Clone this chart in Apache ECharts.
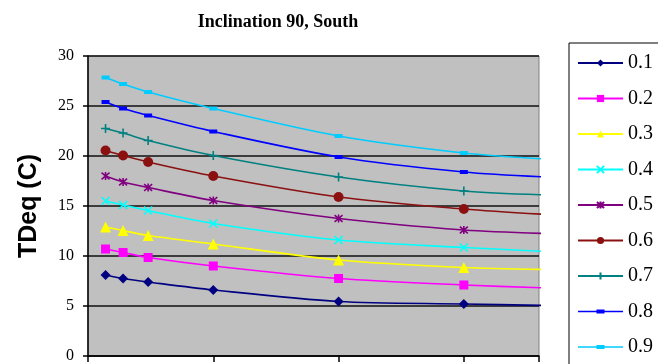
<!DOCTYPE html>
<html>
<head>
<meta charset="utf-8">
<script src="https://cdn.jsdelivr.net/npm/echarts@6/dist/echarts.min.js"></script>
<style>
  html, body { margin: 0; padding: 0; background: #fff; }
  #chart { width: 658px; height: 364px; }
</style>
</head>
<body>
<div id="chart"></div>
<script>
// x positions of the sampled points (last one only carries the curve on)
const xValues = [0.7, 1.4, 2.4, 5, 10, 15, 18.3];

const seriesNames = ['0.1', '0.2', '0.3', '0.4', '0.5', '0.6', '0.7', '0.8', '0.9'];

const tdeq01 = [8.1, 7.75, 7.4, 6.6, 5.45, 5.2, 5.05];
const tdeq02 = [10.7, 10.35, 9.85, 9.0, 7.75, 7.1, 6.8];
const tdeq03 = [12.9, 12.55, 12.05, 11.2, 9.6, 8.85, 8.65];
const tdeq04 = [15.5, 15.1, 14.55, 13.25, 11.6, 10.85, 10.45];
const tdeq05 = [18.0, 17.4, 16.85, 15.55, 13.75, 12.6, 12.25];
const tdeq06 = [20.55, 20.05, 19.4, 18.0, 15.9, 14.7, 14.15];
const tdeq07 = [22.75, 22.3, 21.55, 20.05, 17.9, 16.5, 16.1];
const tdeq08 = [25.4, 24.75, 24.05, 22.45, 19.9, 18.4, 17.9];
const tdeq09 = [27.85, 27.2, 26.4, 24.75, 22.0, 20.3, 19.7];

const yTicks = [0, 5, 10, 15, 20, 25, 30];

const allValues = [tdeq01, tdeq02, tdeq03, tdeq04, tdeq05, tdeq06, tdeq07, tdeq08, tdeq09];

// marker styling per series
const CROSS = 'path://M0,0L10,10M10,0L0,10';
const STAR = 'path://M0,0L10,10M10,0L0,10M5,-1L5,11';
const PLUS = 'path://M5,0L5,10M0,5L10,5';
// legend icon for the dash-marker series: line with a short bar in the middle
const DASH_ICON = 'path://M0,3.7h45v1.6h-45z M18.5,2.5h8v4h-8z';
const styles = [
  { color: '#000080', symbol: 'diamond', size: 10 },
  { color: '#FF00FF', symbol: 'rect', size: 9 },
  { color: '#FFFF00', symbol: 'triangle', size: 11 },
  { color: '#00FFFF', symbol: CROSS, size: 8, stroke: true },
  { color: '#800080', symbol: STAR, size: 8, stroke: true },
  { color: '#8B1010', symbol: 'circle', size: 10 },
  { color: '#008080', symbol: PLUS, size: 9, stroke: true },
  { color: '#0000FF', symbol: 'rect', size: [8, 4], legendIcon: DASH_ICON },
  { color: '#00CCFF', symbol: 'rect', size: [8, 4], legendIcon: DASH_ICON }
];

const series = allValues.map((vals, k) => {
  const st = styles[k];
  const data = xValues.map((x, i) =>
    i === xValues.length - 1 ? { value: [x, vals[i]], symbol: 'none' } : [x, vals[i]]
  );
  const itemStyle = { color: st.color };
  if (st.stroke) {
    itemStyle.borderColor = st.color;
    itemStyle.borderWidth = 1.6;
  }
  return {
    name: seriesNames[k],
    type: 'line',
    data: data,
    smooth: 0.3,
    clip: false,
    symbol: st.symbol,
    symbolSize: st.size,
    showAllSymbol: true,
    lineStyle: { color: st.color, width: 1.6 },
    itemStyle: itemStyle
  };
});

const legendData = seriesNames.map((name, k) =>
  styles[k].legendIcon ? { name: name, icon: styles[k].legendIcon } : { name: name }
);

const chart = echarts.init(document.getElementById('chart'), null, { renderer: 'canvas' });
chart.setOption({
  animation: false,
  backgroundColor: '#ffffff',
  title: {
    text: 'Inclination 90, South',
    left: 273,
    textAlign: 'center',
    top: 8,
    textStyle: { fontFamily: 'Liberation Serif', fontWeight: 'bold', fontSize: 18, color: '#000' }
  },
  legend: {
    orient: 'vertical',
    left: 569,
    top: 43,
    height: 330,
    padding: [10, 40, 10, 8],
    borderColor: '#000',
    borderWidth: 1,
    itemWidth: 45,
    itemHeight: 9,
    itemGap: 15.5,
    data: legendData,
    textStyle: { fontFamily: 'Liberation Serif', fontSize: 20, color: '#000', lineHeight: 20, height: 20 }
  },
  grid: {
    left: 88,
    top: 56,
    right: 119,
    bottom: 7,
    show: true,
    backgroundColor: '#C0C0C0',
    borderColor: '#808080',
    borderWidth: 1
  },
  xAxis: {
    type: 'value',
    min: 0,
    max: 18,
    interval: 5,
    axisLine: { show: true, lineStyle: { color: '#000', width: 1.5 } },
    axisTick: { show: true, inside: false, length: 6, lineStyle: { color: '#000', width: 1.5 } },
    axisLabel: { show: false },
    splitLine: { show: false }
  },
  yAxis: {
    type: 'value',
    min: yTicks[0],
    max: yTicks[yTicks.length - 1],
    interval: 5,
    name: 'TDeq (C)',
    nameLocation: 'middle',
    nameGap: 46,
    nameRotate: 90,
    nameTextStyle: { fontFamily: 'Liberation Sans', fontWeight: 'bold', fontSize: 25, color: '#000' },
    axisLine: { show: true, lineStyle: { color: '#000', width: 1.5 } },
    axisTick: { show: true, inside: false, length: 5, lineStyle: { color: '#000', width: 1.5 } },
    axisLabel: { margin: 14, fontFamily: 'Liberation Serif', fontSize: 16, color: '#000' },
    splitLine: { show: true, lineStyle: { color: '#111', width: 1.5 } }
  },
  series: series
});
</script>
</body>
</html>
